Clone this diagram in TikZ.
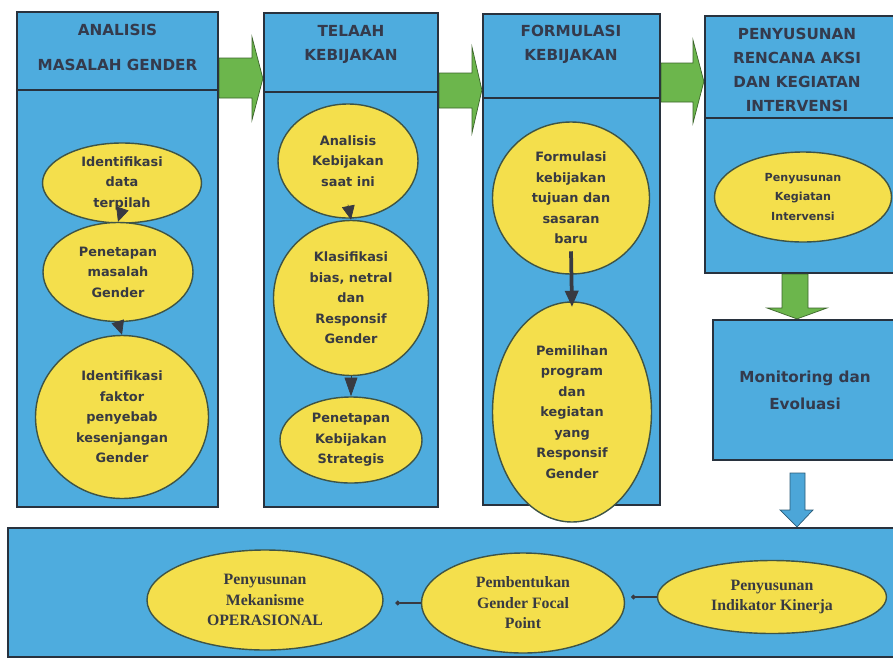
\documentclass[tikz,border=0pt]{standalone}
\usepackage{fontspec}
\setmainfont{DejaVu Sans}
\newfontfamily\ovalserif{Liberation Serif}
\usepackage{xcolor}
\usetikzlibrary{arrows.meta,shapes.geometric}

\definecolor{panelblue}{RGB}{78,172,222}
\definecolor{panelline}{RGB}{40,50,62}
\definecolor{ovalyellow}{RGB}{244,223,76}
\definecolor{ovalline}{RGB}{62,84,70}
\definecolor{inkgray}{RGB}{56,58,66}
\definecolor{headink}{RGB}{52,58,76}
\definecolor{arrowgreen}{RGB}{108,182,76}
\definecolor{arrowblue}{RGB}{76,166,216}

\begin{document}
\begin{tikzpicture}[x=0.3mm,y=-0.3mm,
  panel/.style={draw=panelline,line width=1.9pt,fill=panelblue,inner sep=0pt},
  oval/.style={ellipse,draw=ovalline,line width=1.2pt,fill=ovalyellow,inner sep=0pt,align=center,text=inkgray,
    font=\bfseries\fontsize{11}{17.5}\selectfont},
  head/.style={align=center,text=headink,font=\bfseries\fontsize{13}{20.5}\selectfont},
  drop/.style={draw=inkgray,line width=0.6pt,-{Triangle[width=11pt,length=#1]}},
  block/.style={draw=#1!55!black,line width=0.6pt,fill=#1}]
\useasboundingbox (0,0) rectangle (893,661);

% the four stages, monitoring and the bottom strip
\node[panel,minimum width=60.3mm,minimum height=148.5mm] (c1) at (117.5,259.5) {};
\node[panel,minimum width=52.2mm,minimum height=148.2mm] (c2) at (351,260) {};
\node[panel,minimum width=53.1mm,minimum height=147.3mm] (c3) at (571.5,259.5) {};
\node[panel,minimum width=57.6mm,minimum height=77.1mm] (c4) at (801,144.5) {};
\node[panel,minimum width=55.2mm,minimum height=42mm,align=center,text=headink,
  font=\bfseries\fontsize{13}{23}\selectfont] (mon) at (805,390) {Monitoring dan\\Evoluasi};
\node[panel,minimum width=266.7mm,minimum height=38.7mm] (bot) at (452.5,592.5) {};
\foreach \p/\d in {c1/90,c2/92,c3/98,c4/118}
  \draw[panelline,line width=1.2pt] (\p.west |- 0,\d) -- (\p.east |- 0,\d);

\node[head] (h1) at (117.5,47.5) {ANALISIS\\[9.5pt]MASALAH GENDER};
\node[head] (h2) at (351,44) {TELAAH\\KEBIJAKAN};
\node[head] (h3) at (571,44.5) {FORMULASI\\KEBIJAKAN};
\node[head] (h4) at (797,70) {PENYUSUNAN\\RENCANA AKSI\\DAN KEGIATAN\\INTERVENSI};

% steps inside the stages
\foreach \n/\x/\y/\w/\h/\t in {
  e11/122/183/47.7/24/{Identifikasi\\data\\terpilah},
  e12/118/272/45/29.7/{Penetapan\\masalah\\Gender},
  e13/122/417/51.9/48.9/{Identifikasi\\faktor\\penyebab\\kesenjangan\\Gender},
  e21/348/161/42/34.2/{Analisis\\Kebijakan\\saat ini},
  e22/351/298/46.5/46.5/{Klasifikasi\\bias, netral\\dan\\Responsif\\Gender},
  e23/351/440/42.6/25.8/{Penetapan\\Kebijakan\\Strategis},
  e31/571/198/47.1/45.6/{Formulasi\\kebijakan\\tujuan dan\\sasaran\\baru},
  e32/572/412/47.7/66/{Pemilihan\\program\\dan\\kegiatan\\yang\\Responsif\\Gender}}
  \node[oval,minimum width=\w mm,minimum height=\h mm] (\n) at (\x,\y) {\t};
\node[oval,minimum width=53.1mm,minimum height=27mm,font=\bfseries\fontsize{9.5}{17}\selectfont]
  (e41) at (803,197) {Penyusunan\\Kegiatan\\Intervensi};

\foreach \n/\x/\y/\w/\h/\t in {
  b1/265/600/70.8/30/{Penyusunan\\Mekanisme\\OPERASIONAL},
  b2/523/603/60.9/30/{Pembentukan\\Gender Focal\\Point},
  b3/772/597/68.7/21.9/{Penyusunan\\Indikator Kinerja}}
  \node[oval,minimum width=\w mm,minimum height=\h mm,font=\ovalserif\bfseries\fontsize{13.5}{17.5}\selectfont] (\n) at (\x,\y) {\t};

% arrows between the steps
\draw[drop=12pt] ([yshift=12pt]e11.south) -- (e12.north);
\draw[drop=12pt] (e12.south) -- (e13.north);
\draw[drop=12pt] ([yshift=12pt]e21.south) -- (e22.north);
\draw[drop=16pt] (e22.south) -- (e23.north);
\draw[inkgray,line width=3.2pt,-{Triangle[width=11pt,length=14pt]}] ([yshift=20pt]e31.south) -- ([yshift=-5pt]e32.north);
\draw[inkgray,line width=1pt,-{Circle[length=4pt]},shorten >=5pt] (b3.west) -- (b2.east |- b3.west);
\draw[inkgray,line width=1pt,-{Circle[length=4pt]},shorten >=10pt] (b2.west) -- (b1.east |- b2.west);

% block arrows from stage to stage
\foreach \a/\b/\t/\m/\h/\u/\v/\k in {c1/c2/58/98/252/37/120/78.5, c2/c3/73/108/472/47/133/90, c3/c4/63/102/693/40/123/81.5}
  \draw[block=arrowgreen] (\a.east |- 0,\t) -- (\h,\t) -- (\h,\u) -- (\b.west |- 0,\k) -- (\h,\v) -- (\h,\m) -- (\a.east |- 0,\m) -- cycle;
\draw[block=arrowgreen] (782,0 |- c4.south) -- (782,308) -- (767,308) -- (mon.north -| 797,0) -- (827,308) -- (808,308) -- (808,0 |- c4.south) -- cycle;
\draw[block=arrowblue] (790,473) -- (790,510) -- (780,510) -- (bot.north -| 797,0) -- (813,510) -- (805,510) -- (805,473) -- cycle;
\end{tikzpicture}
\end{document}
